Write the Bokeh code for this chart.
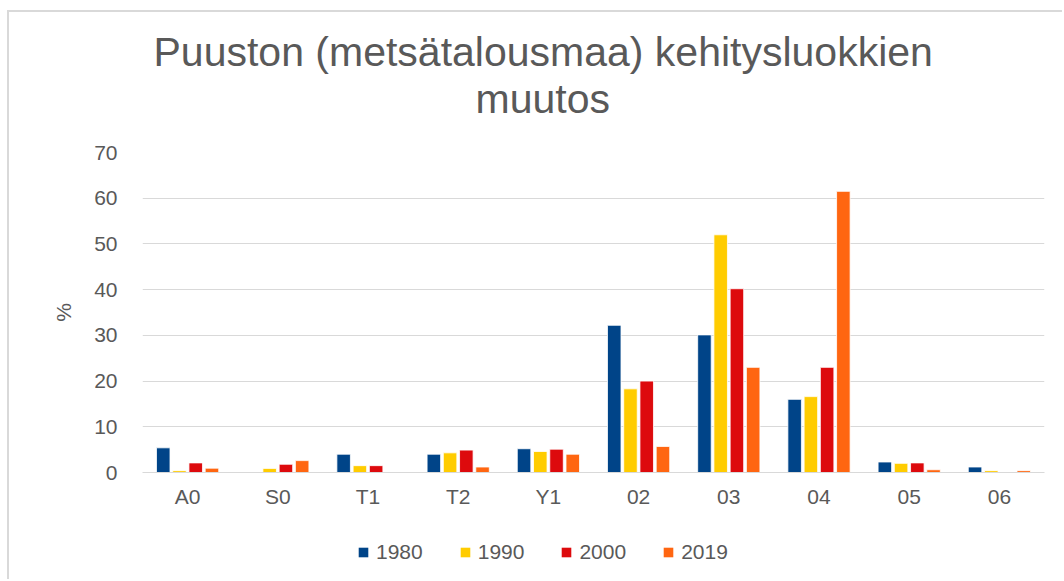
from bokeh.plotting import figure
from bokeh.layouts import column
from bokeh.models import (FactorRange, Legend, LegendItem, Title, ColumnDataSource,
                          Range1d, SingleIntervalTicker)
from bokeh.transform import dodge
from bokeh.embed import file_html
from bokeh.resources import INLINE

categories = ["A0", "S0", "T1", "T2", "Y1", "02", "03", "04", "05", "06"]
years = ["1980", "1990", "2000", "2019"]
v1980 = [5.4, 0.0, 4.0, 4.0, 5.2, 32.2, 30.1, 16.0, 2.3, 1.2]
v1990 = [0.4, 0.9, 1.5, 4.3, 4.6, 18.3, 52.0, 16.6, 2.0, 0.4]
v2000 = [2.1, 1.8, 1.5, 4.9, 5.1, 20.0, 40.2, 23.0, 2.1, 0.0]
v2019 = [0.95, 2.6, 0.0, 1.2, 4.0, 5.7, 23.0, 61.5, 0.6, 0.4]
colors = ["#004488", "#FFCC00", "#DD0A0D", "#FF6611"]
title_lines = ["Puuston (metsätalousmaa) kehitysluokkien", "muutos"]
y_label = "%"

FONT = "Liberation Sans"
GRAY = "#595959"

src = ColumnDataSource(dict(cat=categories, y1980=v1980, y1990=v1990,
                            y2000=v2000, y2019=v2019))

p = figure(x_range=FactorRange(*categories), y_range=Range1d(0, 70),
           width=1055, height=508, output_backend="svg", toolbar_location=None,
           min_border_left=133, min_border_right=20, min_border_top=140,
           min_border_bottom=48, title=None)

offsets = [-0.27, -0.09, 0.09, 0.27]
cols = ["y1980", "y1990", "y2000", "y2019"]
for yr, col, off, c in zip(years, cols, offsets, colors):
    p.vbar(x=dodge("cat", off, range=p.x_range), top=col, width=0.15, source=src,
           fill_color=c, line_color="white", line_width=0.8)

p.outline_line_color = None
p.background_fill_color = "white"
p.border_fill_color = "white"

p.xgrid.grid_line_color = None
p.ygrid.grid_line_color = "#d9d9d9"
p.ygrid.grid_line_width = 1.2
p.yaxis.ticker = SingleIntervalTicker(interval=10)

for ax in (p.xaxis[0], p.yaxis[0]):
    ax.axis_line_color = None
    ax.major_tick_line_color = None
    ax.minor_tick_line_color = None
    ax.major_label_text_font = FONT
    ax.major_label_text_color = GRAY
    ax.major_label_text_font_size = "21px"

p.xaxis.axis_line_color = "#d9d9d9"
p.xaxis.axis_line_width = 1.2
p.xaxis.major_label_standoff = 6
p.yaxis.major_label_standoff = 19
p.yaxis.axis_label = y_label
p.yaxis.axis_label_text_font = FONT
p.yaxis.axis_label_text_font_style = "normal"
p.yaxis.axis_label_text_color = GRAY
p.yaxis.axis_label_text_font_size = "21px"
p.yaxis.axis_label_standoff = 16

p.add_layout(Title(text=title_lines[1], align="left", text_font=FONT,
                   text_font_size="41px", text_font_style="normal",
                   text_color=GRAY, standoff=61, offset=333), "above")
p.add_layout(Title(text=title_lines[0], align="left", text_font=FONT,
                   text_font_size="41px", text_font_style="normal",
                   text_color=GRAY, standoff=-62, offset=11), "above")

# legend strip below the chart
p2 = figure(x_range=Range1d(0, 1), y_range=Range1d(0, 1), width=1055, height=61,
            output_backend="svg", toolbar_location=None, min_border=0,
            x_axis_location=None, y_axis_location=None)
p2.outline_line_color = None
p2.xgrid.grid_line_color = None
p2.ygrid.grid_line_color = None
p2.background_fill_color = "white"
p2.border_fill_color = "white"
items = []
for yr, c in zip(years, colors):
    r = p2.vbar(x=[-5], top=[0], width=0.1, fill_color=c, line_color=None)
    items.append(LegendItem(label=yr, renderers=[r]))
legend = Legend(items=items, orientation="horizontal", location=(215, 17),
                label_text_font=FONT, label_text_font_size="21px",
                label_text_color=GRAY, glyph_width=12, glyph_height=12,
                label_standoff=7, spacing=36, padding=0, margin=0,
                border_line_color=None, background_fill_alpha=0)
p2.add_layout(legend)

layout = column(p, p2, spacing=0,
                styles={"margin-left": "9px", "margin-top": "12px",
                        "box-shadow": "-2px -2px 0 0 #d9d9d9"})
open("out.html", "w").write(file_html(layout, INLINE))
